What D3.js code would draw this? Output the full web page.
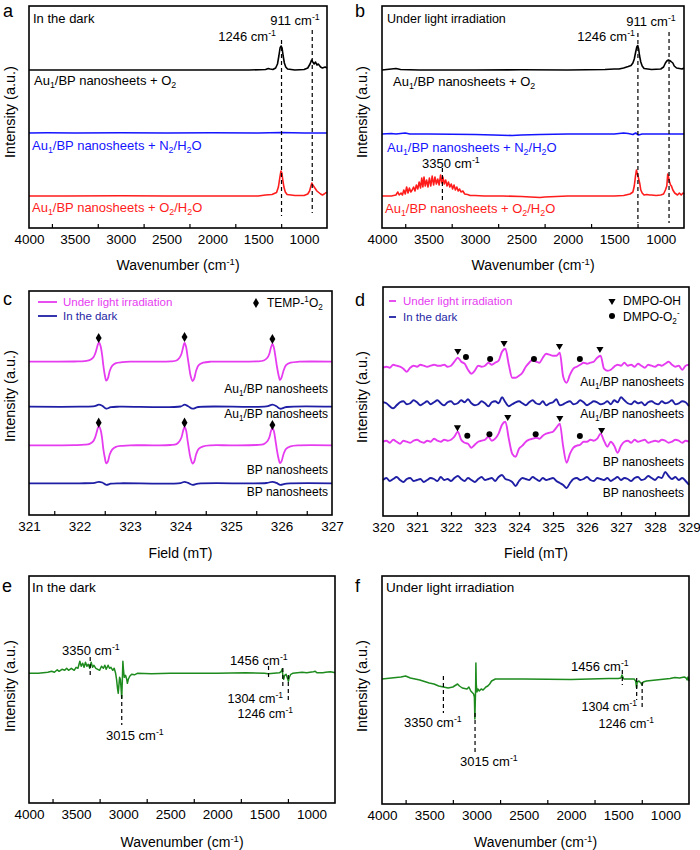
<!DOCTYPE html>
<html><head><meta charset="utf-8">
<script src="https://cdn.jsdelivr.net/npm/d3@7"></script>
<style>html,body{margin:0;padding:0;background:#fff}svg{display:block}</style>
</head><body>
<svg id="chart" width="700" height="850"></svg>
<script>
// ---------------- DATA ----------------
const wnTicks = [4000, 3500, 3000, 2500, 2000, 1500, 1000];
const wnMinor = [3750, 3250, 2750, 2250, 1750, 1250];
const fieldTicksC = [321, 322, 323, 324, 325, 326, 327];
const fieldMinorC = [321.5, 322.5, 323.5, 324.5, 325.5, 326.5];
const fieldTicksD = [320, 321, 322, 323, 324, 325, 326, 327, 328, 329];
const fieldMinorD = [321, 322, 323, 324, 325, 326, 327, 328];

// Panel a (in the dark) - relative intensities above each baseline
const aO2 = [[4000,0],[3500,0],[3000,0],[2500,0],[2000,0],[1600,0],[1420,0.05],[1390,0.15],[1370,0.1],[1340,0.05],[1310,0.2],[1290,0.6],[1275,1.4],[1262,2.2],[1250,2.4],[1240,2.2],[1228,1.4],[1215,0.7],[1200,0.3],[1180,0.1],[1100,0],[1000,0.05],[960,0.2],[935,0.6],[918,1.0],[905,0.8],[890,0.6],[875,0.8],[860,0.5],[845,0.6],[820,0.3],[800,0.2],[770,0.3],[750,0.2]];
const aN2H2O = [[4000,0],[3800,0.02],[3500,0],[3000,0.03],[2500,0],[2000,0.02],[1500,0],[1250,0.05],[1000,0],[750,0]];
const aO2H2O = [[4000,0],[3600,0],[3000,0.02],[2500,0],[2000,0],[1500,0],[1420,0.1],[1350,0.15],[1300,0.35],[1280,0.9],[1265,1.8],[1252,2.5],[1242,2.3],[1232,1.6],[1220,0.9],[1205,0.4],[1185,0.15],[1100,0.05],[1000,0.05],[960,0.2],[940,0.5],[925,1.0],[915,1.3],[905,1.1],[890,0.9],[875,0.7],[860,0.5],[840,0.35],[820,0.2],[800,0.1],[780,0.2],[760,0.35],[750,0.3]];

// Panel b (under light)
const bO2 = [[4000,0],[3950,0.05],[3900,0.1],[3850,0.15],[3800,0.05],[3600,0],[3000,0],[2500,0.02],[2000,0],[1600,0.05],[1500,0.1],[1450,0.1],[1400,0.2],[1350,0.35],[1320,0.45],[1300,0.7],[1285,1.1],[1270,1.8],[1258,2.3],[1248,2.45],[1238,2.1],[1228,1.4],[1215,0.8],[1200,0.4],[1180,0.15],[1100,0.05],[1000,0.1],[970,0.3],[950,0.7],[935,0.9],[918,1.0],[905,0.95],[890,0.85],[870,0.7],[855,0.4],[830,0.2],[800,0.15],[770,0.1],[750,0.2]];
const bN2H2O = [[4000,0],[3900,0.05],[3850,0],[3750,0.1],[3700,0],[3500,0],[3000,-0.05],[2800,-0.1],[2600,-0.15],[2500,-0.1],[2300,-0.05],[2000,0],[1500,0],[1400,0.1],[1350,0.05],[1300,-0.05],[1270,0.1],[1240,-0.1],[1200,0],[1000,0],[750,0]];
const bO2H2O = [[4000,0],[3900,0],[3850,0.1],[3830,0.4],[3815,0.1],[3795,0.3],[3780,0.1],[3765,0.6],[3750,0.2],[3735,0.9],[3720,0.3],[3705,0.8],[3690,0.4],[3675,0.6],[3660,0.9],[3645,0.5],[3630,1.1],[3615,0.7],[3600,1.4],[3585,0.8],[3572,1.8],[3560,0.9],[3548,1.9],[3535,1.0],[3520,1.6],[3505,0.9],[3490,1.8],[3475,1.0],[3460,2.0],[3445,1.1],[3430,1.9],[3415,1.2],[3400,1.7],[3385,1.1],[3370,2.1],[3355,1.3],[3345,1.9],[3330,1.2],[3315,1.6],[3300,1.0],[3285,1.4],[3270,0.9],[3255,1.2],[3240,0.7],[3225,1.1],[3210,0.6],[3195,0.9],[3180,0.5],[3165,0.7],[3150,0.4],[3130,0.5],[3110,0.2],[3080,0.15],[3050,0.05],[3000,0.05],[2900,0],[2700,0],[2500,-0.05],[2300,-0.15],[2250,-0.1],[2000,0],[1800,0],[1500,0],[1400,0.05],[1330,0.2],[1300,0.4],[1285,1.0],[1272,2.0],[1262,2.6],[1252,2.2],[1245,2.0],[1235,1.6],[1225,1.2],[1215,0.6],[1200,0.3],[1180,0.1],[1150,0.15],[1120,0.1],[1100,0.1],[1050,0.05],[1000,0.1],[970,0.2],[950,0.6],[935,1.0],[925,2.2],[915,1.8],[905,1.4],[895,1.1],[885,1.0],[870,0.6],[850,0.3],[820,0.1],[800,0.3],[780,0.1],[760,0.3],[750,0.2]];

// Panel c (TEMP EPR)
const cAuLight = [[321,0],[321.5,0],[321.9,0.02],[322.1,0.05],[322.2,0.15],[322.27,0.4],[322.31,0.8],[322.34,1.3],[322.37,1.8],[322.39,1.9],[322.42,1.5],[322.45,0.6],[322.47,-0.3],[322.5,-1.3],[322.53,-1.9],[322.56,-1.7],[322.6,-0.9],[322.65,-0.4],[322.72,-0.15],[322.85,-0.05],[323,0],[323.5,0],[323.8,0.03],[323.92,0.12],[323.98,0.4],[324.02,0.8],[324.05,1.4],[324.08,1.87],[324.11,1.5],[324.14,0.5],[324.17,-0.5],[324.2,-1.4],[324.24,-1.93],[324.27,-1.7],[324.31,-0.9],[324.36,-0.35],[324.45,-0.1],[324.6,0],[325,0],[325.5,0.03],[325.65,0.12],[325.72,0.4],[325.76,0.8],[325.79,1.4],[325.82,1.77],[325.85,1.4],[325.88,0.5],[325.91,-0.5],[325.94,-1.3],[325.97,-1.83],[326,-1.6],[326.04,-0.9],[326.09,-0.35],[326.18,-0.1],[326.35,0],[327,0]];
const cAuDark = [[321,0],[322,0],[322.3,0.05],[322.38,0.2],[322.45,0.1],[322.53,-0.2],[322.62,-0.05],[322.8,0],[324,0.02],[324.08,0.2],[324.15,0.05],[324.24,-0.2],[324.35,-0.03],[325.7,0.03],[325.82,0.2],[325.9,0.05],[325.97,-0.2],[326.1,-0.03],[327,0]];
const cBPLight = [[321,0],[321.5,0],[321.9,0.02],[322.1,0.06],[322.2,0.15],[322.27,0.4],[322.31,0.8],[322.34,1.3],[322.37,1.8],[322.39,1.86],[322.42,1.5],[322.45,0.6],[322.47,-0.3],[322.5,-1.2],[322.53,-1.8],[322.56,-1.65],[322.6,-0.9],[322.65,-0.4],[322.72,-0.15],[322.85,-0.05],[323,0],[323.5,0],[323.8,0.03],[323.92,0.12],[323.98,0.4],[324.02,0.8],[324.05,1.4],[324.08,1.84],[324.11,1.5],[324.14,0.5],[324.17,-0.5],[324.2,-1.3],[324.24,-1.82],[324.27,-1.65],[324.31,-0.9],[324.36,-0.35],[324.45,-0.1],[324.6,0],[325,0],[325.5,0.03],[325.65,0.12],[325.72,0.4],[325.76,0.8],[325.79,1.4],[325.82,1.75],[325.85,1.4],[325.88,0.5],[325.91,-0.5],[325.94,-1.3],[325.97,-1.78],[326,-1.6],[326.04,-0.9],[326.09,-0.35],[326.18,-0.1],[326.35,0],[327,0]];
const cBPDark = [[321,0],[322,0],[322.3,0.04],[322.38,0.15],[322.45,0.08],[322.53,-0.15],[322.62,-0.04],[322.8,0],[324,0.02],[324.08,0.15],[324.15,0.04],[324.24,-0.15],[324.35,-0.03],[325.7,0.03],[325.82,0.15],[325.9,0.04],[325.97,-0.15],[326.1,-0.03],[327,0]];
const cDiamonds = [[322.38,17.7],[324.08,17.8],[325.82,17.6],[322.38,9.23],[324.08,9.23],[325.82,9.0]];

// Panel d (DMPO EPR) sampled every 0.1 mT from 320 to 329
const dField = d3.range(91).map(i => +(320 + i * 0.1).toFixed(1));
const dAuLight = [-0.1,0.0,-0.1,0.2,0.1,0.0,-0.2,-0.5,-0.1,0.1, 0.0,0.2,0.1,0.0,0.1,0.2,0.1,0.1,0.2,0.0, 0.1,0.5,0.9,0.5,0.3,-0.3,-0.7,-0.4,0.1,0.0, 0.1,0.4,0.2,0.4,0.6,1.5,1.8,0.2,-1.1,-1.1, -0.9,-0.6,0.0,0.4,0.7,0.5,0.4,0.9,1.3,1.2, 1.1,1.1,1.4,-1.0,-1.6,-0.8,-0.2,0.0,0.2,0.4, 0.3,0.4,0.5,0.9,1.1,-0.2,-0.4,-0.3,0.0,0.2, 0.1,0.4,0.1,0.2,0.0,0.3,0.1,-0.1,0.2,0.1, 0.0,0.2,0.1,0.3,0.5,0.2,0.0,0.1,-0.3,0.1,0.2];
const dAuDark = [0.1,0.0,-0.3,-0.5,-0.2,0.1,0.2,-0.1,0.0,0.3, 0.1,-0.2,0.0,0.2,-0.1,0.1,0.3,0.0,-0.2,0.1, 0.2,-0.1,0.0,0.3,0.1,0.4,0.0,-0.2,-0.1,0.2, 0.0,-0.3,0.1,0.2,0.0,0.6,0.1,-0.3,-0.1,0.1, 0.2,0.0,-0.2,0.1,0.3,0.0,-0.1,0.2,-0.2,0.0, 0.1,0.4,-0.2,-0.1,0.1,0.2,-0.1,0.0,0.3,0.1, -0.2,0.0,0.2,0.1,-0.1,0.0,0.2,-0.1,0.3,0.1, 0.6,0.3,0.0,-0.1,0.2,0.0,0.1,-0.2,0.1,0.2, 0.0,-0.1,0.2,0.0,0.1,0.3,-0.1,0.0,0.2,0.1,-0.3];
const dBPLight = [0.0,0.1,-0.1,0.2,0.0,-0.2,0.1,0.0,-0.1,0.1, 0.2,0.0,-0.1,0.1,0.0,0.3,0.1,0.0,0.2,0.1, 0.2,0.5,1.0,0.2,-0.1,-0.2,-0.6,-0.3,0.0,0.1, 0.2,0.5,0.1,0.3,0.8,1.7,2.0,0.3,-1.2,-1.5, -0.7,-0.4,0.0,0.2,0.3,0.4,0.3,0.6,0.8,0.9, 1.0,1.4,1.8,-0.5,-2.1,-1.2,-0.6,-0.4,-0.3,0.0, 0.0,0.2,0.1,0.3,0.8,0.1,-0.5,0.0,-0.4,-1.1, -0.4,0.0,0.1,-0.1,0.2,0.0,0.1,0.2,-0.1,0.0, 0.1,0.0,0.2,0.1,-0.1,0.0,0.2,0.1,-0.1,0.1,0.0];
const dBPDark = [0.0,0.2,-0.1,0.1,0.3,0.0,-0.2,0.1,0.2,-0.1, 0.0,0.1,-0.2,0.0,0.2,0.1,-0.1,0.3,0.0,0.1, -0.1,0.2,0.4,0.1,-0.1,0.2,0.0,-0.2,0.1,0.3, 0.0,0.1,0.2,-0.1,0.3,0.5,0.1,0.0,-0.2,-0.6, -0.1,0.2,0.1,0.0,0.3,0.1,-0.1,0.2,0.0,0.1, 0.2,-0.1,-0.3,-0.5,-0.8,-0.3,0.1,0.2,0.0,0.1, 0.3,0.0,-0.1,0.2,0.1,0.0,0.2,-0.1,0.1,0.3, 0.0,0.2,0.1,-0.1,0.2,0.3,0.0,0.1,0.4,0.2, 0.0,0.3,0.2,0.8,0.4,0.1,0.3,0.0,0.2,-0.1,-0.5];
const dTriangles = [[322.2,16.5],[323.56,17.3],[325.19,17.0],[326.38,16.7],[322.19,8.87],[323.67,9.9],[325.2,9.8],[326.43,8.6]];
const dCircles = [[322.44,15.9],[323.15,15.7],[324.44,15.7],[325.79,15.7],[322.48,8.03],[323.13,8.17],[324.49,8.17],[325.79,8.0]];

// Panel e / f (difference spectra)
const eDark = [[4000,0],[3900,0],[3850,0.05],[3800,0.1],[3760,0.2],[3730,0.1],[3700,0.35],[3680,0.2],[3650,0.4],[3620,0.3],[3600,0.5],[3580,0.3],[3550,0.5],[3520,0.3],[3500,0.6],[3480,0.5],[3460,1.2],[3445,0.7],[3430,1.0],[3415,0.6],[3400,1.1],[3385,0.7],[3370,0.9],[3355,0.5],[3340,1.1],[3325,0.6],[3310,0.8],[3290,0.5],[3270,0.4],[3250,0.3],[3230,0.7],[3210,0.5],[3195,0.8],[3180,0.4],[3160,0.8],[3145,0.5],[3130,0.6],[3110,0.3],[3095,0.5],[3080,0.0],[3070,-0.6],[3060,-1.5],[3052,-2.0],[3045,-1.2],[3038,-0.4],[3030,-0.6],[3022,-1.5],[3015,-2.5],[3009,-0.8],[3003,1.2],[2997,0.4],[2988,-0.4],[2975,-0.2],[2962,-0.6],[2955,-1.0],[2945,-0.6],[2930,-0.3],[2910,-0.1],[2880,-0.15],[2850,0],[2700,-0.05],[2500,0],[2000,0],[1700,0.05],[1500,0],[1460,-0.05],[1400,0],[1340,0.05],[1320,0.2],[1310,0.45],[1303,-0.4],[1295,-0.6],[1285,-0.2],[1270,-0.1],[1255,-0.5],[1245,-0.8],[1235,-0.4],[1220,-0.1],[1200,0],[1100,0.1],[1050,0.05],[980,0.15],[960,0.2],[940,0.05],[880,0.05],[850,0.1],[800,0.15],[770,0.1],[750,0.05]];
const fLight = [[4000,0],[3900,0.1],[3800,0.2],[3750,0.3],[3700,0.1],[3600,-0.1],[3500,-0.4],[3450,-0.5],[3400,-0.7],[3350,-0.8],[3300,-0.9],[3250,-0.8],[3200,-0.5],[3180,-0.7],[3150,-0.9],[3100,-1.0],[3080,-0.8],[3060,-1.2],[3040,-1.4],[3030,-1.5],[3022,-1.8],[3017,-4.0],[3013,-2.5],[3009,-1.0],[3006,1.6],[3002,-0.5],[2995,-1.3],[2985,-1.0],[2970,-1.2],[2950,-1.0],[2930,-1.1],[2900,-0.8],[2880,-0.7],[2860,-0.5],[2840,-0.2],[2820,-0.1],[2800,0.0],[2500,0.0],[2000,-0.05],[1800,0.0],[1600,0.05],[1500,0.05],[1470,0.1],[1460,0.4],[1450,0.2],[1440,0.0],[1400,0.0],[1330,0.0],[1315,-0.2],[1305,-0.9],[1298,-0.3],[1280,-0.2],[1260,-0.4],[1248,-0.6],[1235,-0.3],[1200,-0.2],[1150,-0.15],[1100,-0.1],[1050,-0.05],[1000,0.0],[950,0.05],[900,0.15],[850,0.1],[800,0.2],[780,0.1],[770,-0.1],[760,0.2],[750,-0.2]];

// ---------------- RENDERING ----------------
const FONT = "'Liberation Sans', Arial, Helvetica, sans-serif";
const svg = d3.select("#chart").attr("font-family", FONT);
const C = {black:"#000", blue:"#1414ff", red:"#ff1c1c", magenta:"#e63cf0", navy:"#1f1fa5", green:"#1e8b1e"};

function rich(g, x, y, str, opt) {
  const size = opt.size || 13;
  const t = g.append("text").attr("x", x).attr("y", y).attr("font-size", size)
    .attr("fill", opt.fill || "#000").attr("text-anchor", opt.anchor || "start");
  const parts = str.split(/(\^\{[^}]*\}|_\{[^}]*\})/).filter(s => s.length);
  let shift = 0;
  parts.forEach(p => {
    let target = 0, fs = size, txt = p;
    if (p.startsWith("^{")) { target = -0.38 * size; fs = size * 0.68; txt = p.slice(2, -1); }
    else if (p.startsWith("_{")) { target = 0.22 * size; fs = size * 0.68; txt = p.slice(2, -1); }
    t.append("tspan").attr("dy", (target - shift).toFixed(2)).attr("font-size", fs.toFixed(2)).text(txt);
    shift = target;
  });
  return t;
}

function panel(cfg) {
  const g = svg.append("g");
  const x = d3.scaleLinear().domain(cfg.domain).range([cfg.left, cfg.right]);
  const y = d3.scaleLinear().domain([0, (cfg.bottom - cfg.top) / 10]).range([cfg.bottom, cfg.top]);
  cfg.series.forEach(s => {
    const line = d3.line().x(d => x(d[0])).y(d => y(d[1] + s.offset)).curve(s.curve || d3.curveLinear);
    g.append("path").datum(s.data).attr("d", line).attr("fill", "none")
      .attr("stroke", s.color).attr("stroke-width", s.width || 1.6).attr("stroke-linejoin", "round");
  });
  g.append("g").attr("transform", `translate(0,${cfg.bottom})`)
    .call(d3.axisBottom(x).tickValues(cfg.minor).tickFormat("").tickSizeInner(-4).tickSizeOuter(0))
    .call(a => a.select(".domain").remove())
    .call(a => a.selectAll("line").attr("stroke", "#000").attr("stroke-width", 1.2));
  g.append("g").attr("transform", `translate(0,${cfg.bottom})`)
    .call(d3.axisBottom(x).tickValues(cfg.major).tickFormat(d3.format("d")).tickSize(0).tickPadding(6))
    .call(a => a.select(".domain").remove())
    .call(a => a.selectAll("text").attr("font-size", 13.5).attr("font-family", FONT).attr("fill", "#000"));
  g.append("rect").attr("x", cfg.left).attr("y", cfg.top).attr("width", cfg.right - cfg.left)
    .attr("height", cfg.bottom - cfg.top).attr("fill", "none").attr("stroke", "#000").attr("stroke-width", 1.6);
  rich(g, (cfg.left + cfg.right) / 2, cfg.xTitleY, cfg.xTitle, {size: 14, anchor: "middle"});
  g.append("text").attr("transform", `translate(${cfg.yTitleX},${cfg.yTitleY}) rotate(-90)`)
    .attr("text-anchor", "middle").attr("font-size", 14.5).text("Intensity (a.u.)");
  g.append("text").attr("x", cfg.letter[0]).attr("y", cfg.letter[1]).attr("font-size", 18).text(cfg.letter[2]);
  return {g, x, y};
}

function dashed(p, w, y1, y2) {
  p.g.append("line").attr("x1", p.x(w)).attr("x2", p.x(w)).attr("y1", p.y(y1)).attr("y2", p.y(y2))
    .attr("stroke", "#000").attr("stroke-width", 1.2).attr("stroke-dasharray", "4,3");
}

// ----- a -----
const pa = panel({left:29, right:327, top:6, bottom:228, domain:[4000,750], major:wnTicks, minor:wnMinor,
  xTitle:"Wavenumber (cm^{-1})", xTitleY:270, yTitleX:15, yTitleY:112, letter:[3,17,"a"],
  series:[{data:aO2, offset:15.8, color:C.black},{data:aN2H2O, offset:9.5, color:C.blue},{data:aO2H2O, offset:3.2, color:C.red}]});
dashed(pa, 1246, 18.8, 1.2); dashed(pa, 911, 19.8, 1.5);
rich(pa.g, 33, 23, "In the dark", {size:13});
rich(pa.g, 295, 25, "911 cm^{-1}", {size:13, anchor:"middle"});
rich(pa.g, 276, 41, "1246 cm^{-1}", {size:13, anchor:"end"});
rich(pa.g, 34, 85, "Au_{1}/BP nanosheets + O_{2}", {size:13, fill:C.black});
rich(pa.g, 32, 150, "Au_{1}/BP nanosheets + N_{2}/H_{2}O", {size:13, fill:C.blue});
rich(pa.g, 32, 212, "Au_{1}/BP nanosheets + O_{2}/H_{2}O", {size:13, fill:C.red});

// ----- b -----
const pb = panel({left:382, right:684, top:6, bottom:228, domain:[4000,750], major:wnTicks, minor:wnMinor,
  xTitle:"Wavenumber (cm^{-1})", xTitleY:270, yTitleX:367, yTitleY:112, letter:[355,17,"b"],
  series:[{data:bO2, offset:15.8, color:C.black},{data:bN2H2O, offset:9.4, color:C.blue},{data:bO2H2O, offset:3.2, color:C.red}]});
dashed(pb, 1246, 19.5, 0.5); dashed(pb, 911, 19.6, 0.5); dashed(pb, 3350, 6.0, 2.6);
rich(pb.g, 387, 23, "Under light irradiation", {size:12.5});
rich(pb.g, 651, 26, "911 cm^{-1}", {size:13, anchor:"middle"});
rich(pb.g, 635, 41, "1246 cm^{-1}", {size:13, anchor:"end"});
rich(pb.g, 422, 168, "3350 cm^{-1}", {size:13});
rich(pb.g, 393, 86, "Au_{1}/BP nanosheets + O_{2}", {size:13, fill:C.black});
rich(pb.g, 387, 152, "Au_{1}/BP nanosheets + N_{2}/H_{2}O", {size:13, fill:C.blue});
rich(pb.g, 385, 213, "Au_{1}/BP nanosheets + O_{2}/H_{2}O", {size:13, fill:C.red});

// ----- c -----
const pc = panel({left:29, right:332, top:291, bottom:515, domain:[321,327], major:fieldTicksC, minor:fieldMinorC,
  xTitle:"Field (mT)", xTitleY:558, yTitleX:15, yTitleY:396, letter:[3,305,"c"],
  series:[{data:cAuLight, offset:15.33, color:C.magenta, width:1.8, curve:d3.curveCatmullRom},
          {data:cAuDark, offset:10.83, color:C.navy, width:1.8, curve:d3.curveCatmullRom},
          {data:cBPLight, offset:6.97, color:C.magenta, width:1.8, curve:d3.curveCatmullRom},
          {data:cBPDark, offset:3.17, color:C.navy, width:1.8, curve:d3.curveCatmullRom}]});
pc.g.selectAll(".dia").data(cDiamonds).join("path")
  .attr("d", d3.symbol(d3.symbolDiamond, 30)).attr("fill", "#000")
  .attr("transform", d => `translate(${pc.x(d[0])},${pc.y(d[1])})`);
pc.g.append("line").attr("x1", 38).attr("x2", 57).attr("y1", 302).attr("y2", 302).attr("stroke", C.magenta).attr("stroke-width", 1.8);
pc.g.append("line").attr("x1", 38).attr("x2", 57).attr("y1", 316).attr("y2", 316).attr("stroke", C.navy).attr("stroke-width", 1.8);
rich(pc.g, 63, 306, "Under light irradiation", {size:11.5, fill:C.magenta});
rich(pc.g, 63, 320, "In the dark", {size:11.5, fill:C.navy});
pc.g.append("path").attr("d", d3.symbol(d3.symbolDiamond, 30)).attr("transform", "translate(256,303)").attr("fill", "#000");
rich(pc.g, 267, 307, "TEMP-^{1}O_{2}", {size:12});
rich(pc.g, 328, 393, "Au_{1}/BP nanosheets", {size:12, anchor:"end"});
rich(pc.g, 328, 418, "Au_{1}/BP nanosheets", {size:12, anchor:"end"});
rich(pc.g, 328, 474, "BP nanosheets", {size:12, anchor:"end"});
rich(pc.g, 328, 496, "BP nanosheets", {size:12, anchor:"end"});

// ----- d -----
const zipD = vals => dField.map((f, i) => [f, vals[i]]);
const pd = panel({left:383, right:689, top:287, bottom:516, domain:[320,329], major:fieldTicksD, minor:fieldMinorD,
  xTitle:"Field (mT)", xTitleY:558, yTitleX:367, yTitleY:397, letter:[355,306,"d"],
  series:[{data:zipD(dAuLight), offset:14.93, color:C.magenta, width:1.9, curve:d3.curveMonotoneX},
          {data:zipD(dAuDark), offset:11.27, color:C.navy, width:1.9, curve:d3.curveMonotoneX},
          {data:zipD(dBPLight), offset:7.43, color:C.magenta, width:1.9, curve:d3.curveMonotoneX},
          {data:zipD(dBPDark), offset:3.6, color:C.navy, width:1.9, curve:d3.curveMonotoneX}]});
const tri = d3.symbol(d3.symbolTriangle, 22);
pd.g.selectAll(".tri").data(dTriangles).join("path").attr("d", tri).attr("fill", "#000")
  .attr("transform", d => `translate(${pd.x(d[0])},${pd.y(d[1])}) rotate(180)`);
pd.g.selectAll(".cir").data(dCircles).join("circle").attr("r", 3).attr("fill", "#000")
  .attr("cx", d => pd.x(d[0])).attr("cy", d => pd.y(d[1]));
pd.g.append("line").attr("x1", 389).attr("x2", 396).attr("y1", 301).attr("y2", 301).attr("stroke", C.magenta).attr("stroke-width", 1.8);
pd.g.append("line").attr("x1", 389).attr("x2", 396).attr("y1", 317).attr("y2", 317).attr("stroke", C.navy).attr("stroke-width", 1.8);
rich(pd.g, 403, 305, "Under light irradiation", {size:11.5, fill:C.magenta});
rich(pd.g, 403, 321, "In the dark", {size:11.5, fill:C.navy});
pd.g.append("path").attr("d", tri).attr("transform", "translate(612,301) rotate(180)").attr("fill", "#000");
pd.g.append("circle").attr("cx", 612).attr("cy", 316).attr("r", 3).attr("fill", "#000");
rich(pd.g, 623, 305, "DMPO-OH", {size:12});
rich(pd.g, 623, 321, "DMPO-O_{2}^{-}", {size:12});
rich(pd.g, 684, 386, "Au_{1}/BP nanosheets", {size:12, anchor:"end"});
rich(pd.g, 684, 418, "Au_{1}/BP nanosheets", {size:12, anchor:"end"});
rich(pd.g, 684, 466, "BP nanosheets", {size:12, anchor:"end"});
rich(pd.g, 684, 497, "BP nanosheets", {size:12, anchor:"end"});

// ----- e -----
const pe = panel({left:29, right:335, top:576, bottom:803, domain:[4000,750], major:wnTicks, minor:wnMinor,
  xTitle:"Wavenumber (cm^{-1})", xTitleY:847, yTitleX:15, yTitleY:686, letter:[2,592,"e"],
  series:[{data:eDark, offset:12.97, color:C.green, width:1.5}]});
dashed(pe, 3350, 14.6, 12.6); dashed(pe, 3015, 10.8, 7.8); dashed(pe, 1456, 13.7, 12.3);
dashed(pe, 1304, 13.5, 11.5); dashed(pe, 1246, 12.8, 10.1);
rich(pe.g, 32, 592, "In the dark", {size:13.5});
rich(pe.g, 62, 655, "3350 cm^{-1}", {size:13});
rich(pe.g, 230, 665, "1456 cm^{-1}", {size:13});
rich(pe.g, 283, 703, "1304 cm^{-1}", {size:12.5, anchor:"end"});
rich(pe.g, 293, 718, "1246 cm^{-1}", {size:12.5, anchor:"end"});
rich(pe.g, 106, 740, "3015 cm^{-1}", {size:13});

// ----- f -----
const pf = panel({left:382, right:689, top:576, bottom:804, domain:[4000,750], major:wnTicks, minor:wnMinor,
  xTitle:"Wavenumber (cm^{-1})", xTitleY:847, yTitleX:367, yTitleY:686, letter:[355,592,"f"],
  series:[{data:fLight, offset:12.5, color:C.green, width:1.5}]});
dashed(pf, 3350, 12.8, 9.1); dashed(pf, 3015, 9.1, 5.2); dashed(pf, 1456, 13.4, 11.9);
dashed(pf, 1304, 12.6, 10.4); dashed(pf, 1246, 12.2, 9.6);
rich(pf.g, 386, 592, "Under light irradiation", {size:13.5});
rich(pf.g, 404, 727, "3350 cm^{-1}", {size:13});
rich(pf.g, 460, 766, "3015 cm^{-1}", {size:13});
rich(pf.g, 571, 671, "1456 cm^{-1}", {size:13});
rich(pf.g, 637, 711, "1304 cm^{-1}", {size:12.5, anchor:"end"});
rich(pf.g, 654, 728, "1246 cm^{-1}", {size:12.5, anchor:"end"});
</script>
</body></html>
